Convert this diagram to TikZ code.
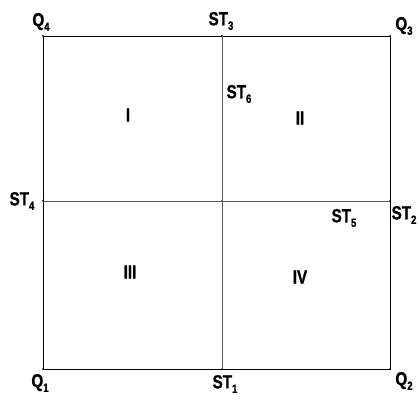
\documentclass[tikz,border=0pt]{standalone}
\usepackage{fontspec}
\newfontfamily\lblfont[FakeStretch=0.8, FakeBold=1.2]{Liberation Sans Bold}
\usetikzlibrary{positioning}
\newcommand{\idx}[1]{\raisebox{-0.45ex}{\fontsize{12}{12}\selectfont #1}}

\begin{document}
\begin{tikzpicture}[
    x=1pt, y=1pt,
    lbl/.style={font=\lblfont\fontsize{19}{19}\selectfont, inner sep=0pt},
    zone/.style={font=\lblfont\fontsize{19}{19}\selectfont, inner sep=0pt},
    border/.style={draw=black, line width=0.9pt},
    axis/.style={draw=black!65, line width=0.9pt},
    pt/.style={circle, fill=black, inner sep=0pt, minimum size=2pt}
]
\useasboundingbox (0,0) rectangle (419,401);

% Corner and station points
\node[pt] (q1) at (43, 32) {};
\node[pt] (q2) at (390, 32) {};
\node[pt] (q3) at (390, 365) {};
\node[pt] (q4) at (43, 365) {};
\node[pt] (st1) at (222, 32) {};
\node[pt] (st2) at (390, 200) {};
\node[pt] (st3) at (222, 365) {};
\node[pt] (st4) at (43, 200) {};
\node[pt] (mid) at (222, 200) {};

% Square and cross lines
\draw[border] (q1.center) -- (q2.center) -- (q3.center) -- (q4.center) -- cycle;
\draw[axis] (st1.center) -- (st3.center);
\draw[axis] (st4.center) -- (st2.center);

% Point labels
\node[lbl] (lq4) at (41, 379) {Q\idx{4}};
\node[lbl] (lst3) at (221, 380) {ST\idx{3}};
\node[lbl] (lq3) at (404, 375) {Q\idx{3}};
\node[lbl] (lst6) at (239, 307) {ST\idx{6}};
\node[lbl] (lst4) at (22, 200) {ST\idx{4}};
\node[lbl] (lst5) at (344, 183) {ST\idx{5}};
\node[lbl] (lst2) at (404, 186) {ST\idx{2}};
\node[lbl] (lq1) at (40, 18) {Q\idx{1}};
\node[lbl] (lst1) at (225, 17) {ST\idx{1}};
\node[lbl] (lq2) at (404, 20) {Q\idx{2}};

% Quadrant labels
\node[zone] (z1) at (128, 286) {I};
\node[zone] (z2) at (300, 283) {II};
\node[zone] (z3) at (130, 129) {III};
\node[zone] (z4) at (300, 124) {IV};

\end{tikzpicture}
\end{document}
